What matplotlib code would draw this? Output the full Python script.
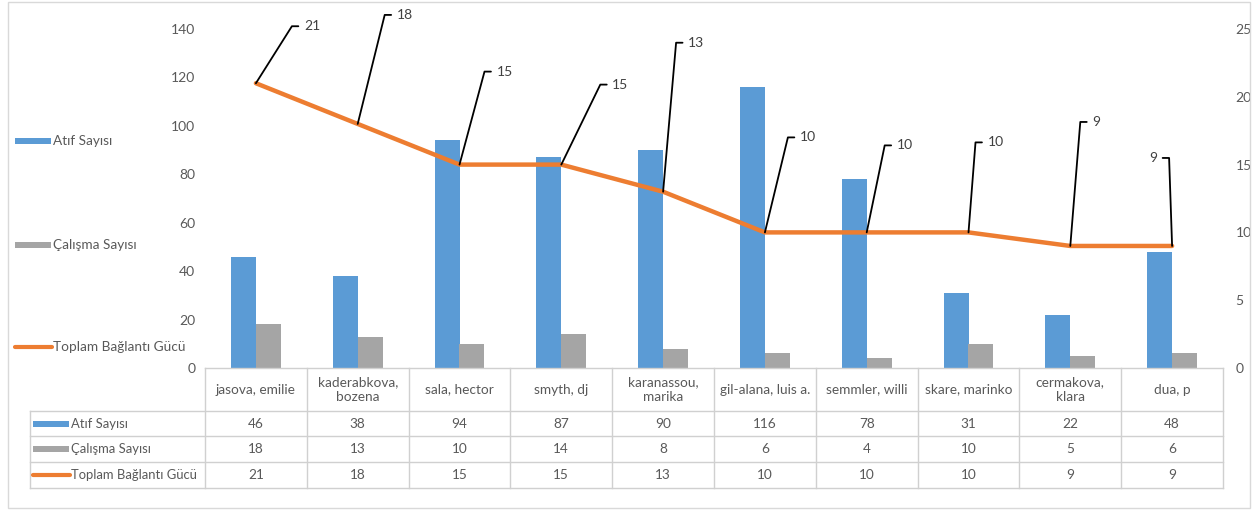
import matplotlib.pyplot as plt
from matplotlib.patches import Rectangle
from matplotlib.lines import Line2D
import numpy as np

authors = ['jasova, emilie', 'kaderabkova,\nbozena', 'sala, hector', 'smyth, dj',
           'karanassou,\nmarika', 'gil-alana, luis a.', 'semmler, willi',
           'skare, marinko', 'cermakova,\nklara', 'dua, p']
atif = [46, 38, 94, 87, 90, 116, 78, 31, 22, 48]
calisma = [18, 13, 10, 14, 8, 6, 4, 10, 5, 6]
baglanti = [21, 18, 15, 15, 13, 10, 10, 10, 9, 9]
names = ['Atıf Sayısı', 'Çalışma Sayısı', 'Toplam Bağlantı Gücü']

BLUE = '#5B9BD5'
GRAY = '#A5A5A5'
ORANGE = '#ED7D31'
TXT = '#595959'
GRID = '#D0D0D0'

plt.rcParams['font.family'] = ['Lato', 'DejaVu Sans']
plt.rcParams['font.size'] = 9.8

W, H = 1257, 512
fig = plt.figure(figsize=(W / 100, H / 100), dpi=100)


def fx(px):
    return px / W


def fy(py):
    return 1 - py / H


# plot area in pixels
L, R, T, B = 205, 1223, 29, 368
ax = fig.add_axes([fx(L), fy(B), fx(R) - fx(L), fy(T) - fy(B)])

x = np.arange(len(authors))
bw = 0.245
ax.bar(x - bw / 2, atif, bw, color=BLUE)
ax.bar(x + bw / 2, calisma, bw, color=GRAY)
ax.set_xlim(-0.5, len(authors) - 0.5)
ax.set_ylim(0, 140)
ax.set_yticks(range(0, 141, 20))
ax.set_xticks([])
for s in ax.spines.values():
    s.set_visible(False)
ax.tick_params(axis='y', length=0, pad=7, labelcolor=TXT, labelsize=10)

ax2 = ax.twinx()
ax2.set_ylim(0, 25)
ax2.set_yticks(range(0, 26, 5))
for s in ax2.spines.values():
    s.set_visible(False)
ax2.tick_params(axis='y', length=0, pad=9, labelcolor=TXT, labelsize=10)
ax2.plot(x, baglanti, color=ORANGE, lw=3.2, solid_joinstyle='round', solid_capstyle='round')

# data labels with leader lines (elbow offset in px from the point)
offsets = [(36, 57), (27, 109), (25, 93), (39, 80), (13, 149),
           (23, 95), (18, 87), (7, 90), (10, 124), (-3, 88)]
for xi, v, (dx, dy) in zip(x, baglanti, offsets):
    theta = np.degrees(np.arctan2(dy, dx))
    if dx >= 0:
        tx, ha, rel = dx + 12, 'left', (0, 0.5)
    else:
        tx, ha, rel = dx - 12, 'right', (1, 0.5)
    ax2.annotate(str(v), xy=(xi, v), xytext=(tx, dy), textcoords='offset pixels',
                 ha=ha, va='center', color='#404040', fontsize=10,
                 arrowprops=dict(arrowstyle='-', color='black', lw=1.3,
                                 connectionstyle=f'angle,angleA=0,angleB={theta},rad=0',
                                 relpos=rel, shrinkB=0))

# data table
n = len(authors)
colw = (R - L) / n
rows = [B, 411, 436, 462, 488]
TL = 30
fig.add_artist(Line2D([fx(L), fx(R)], [fy(B), fy(B)], color=GRID, lw=1))
for ry in rows[1:]:
    fig.add_artist(Line2D([fx(TL), fx(R)], [fy(ry), fy(ry)], color=GRID, lw=1))
fig.add_artist(Line2D([fx(TL), fx(TL)], [fy(rows[1]), fy(rows[-1])], color=GRID, lw=1))
for i in range(n + 1):
    cx = L + i * colw
    fig.add_artist(Line2D([fx(cx), fx(cx)], [fy(B), fy(rows[-1])], color=GRID, lw=1))

for i, a in enumerate(authors):
    cx = L + (i + 0.5) * colw
    fig.text(fx(cx), fy((rows[0] + rows[1]) / 2), a, ha='center', va='center',
             color=TXT, linespacing=1.3)
    for r, vals in enumerate([atif, calisma, baglanti]):
        fig.text(fx(cx), fy((rows[r + 1] + rows[r + 2]) / 2), str(vals[i]),
                 ha='center', va='center', color=TXT)

colors = [BLUE, GRAY, ORANGE]
for r, (nm, c) in enumerate(zip(names, colors)):
    cy = (rows[r + 1] + rows[r + 2]) / 2
    if r < 2:
        fig.add_artist(Rectangle((fx(33), fy(cy + 3)), fx(69) - fx(33), fy(cy - 3) - fy(cy + 3),
                                 transform=fig.transFigure, color=c, lw=0))
    else:
        fig.add_artist(Line2D([fx(33), fx(70)], [fy(cy), fy(cy)], color=c, lw=3,
                              solid_capstyle='round'))
    fig.text(fx(71), fy(cy), nm, ha='left', va='center', color=TXT, fontsize=9.4)

# legend at the left
for nm, c, ly in zip(names, colors, [141, 245, 347]):
    if c != ORANGE:
        fig.add_artist(Rectangle((fx(15), fy(ly + 3)), fx(51) - fx(15), fy(ly - 3) - fy(ly + 3),
                                 transform=fig.transFigure, color=c, lw=0))
    else:
        fig.add_artist(Line2D([fx(15), fx(52)], [fy(ly), fy(ly)], color=c, lw=3,
                              solid_capstyle='round'))
    fig.text(fx(53), fy(ly), nm, ha='left', va='center', color=TXT)

# outer frame
fig.add_artist(Rectangle((fx(8), fy(508)), fx(1250) - fx(8), fy(2) - fy(508),
                         transform=fig.transFigure, fill=False, edgecolor='#D9D9D9', lw=1))

fig.savefig('out.png', dpi=100)
